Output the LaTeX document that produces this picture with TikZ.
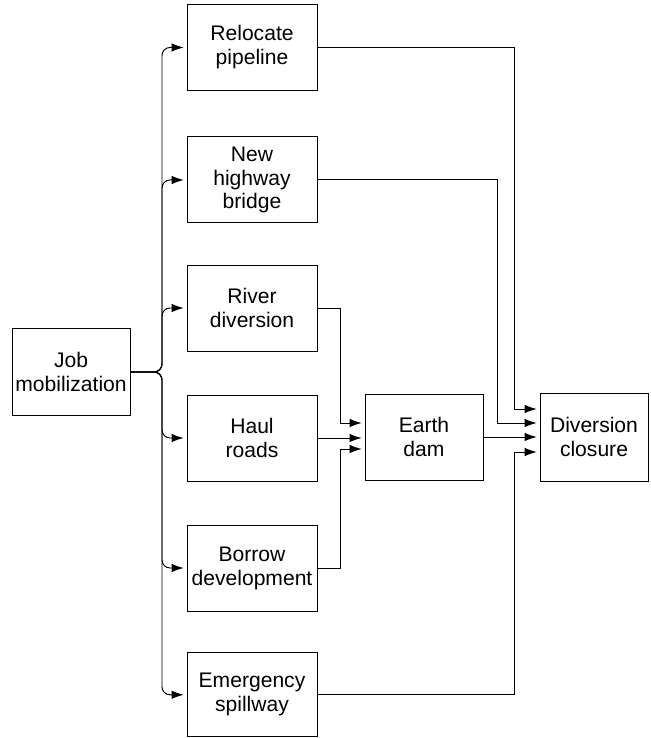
\documentclass[tikz,border=0pt]{standalone}
\usepackage{fontspec}
\setmainfont{Liberation Sans}
\usetikzlibrary{positioning}
\usetikzlibrary{calc}
\usetikzlibrary{arrows.meta}

\begin{document}
\begin{tikzpicture}[
    task/.style={rectangle, draw, line width=0.7pt, minimum width=3.25cm, minimum height=2.15cm,
                 align=center, inner sep=1pt, font=\fontsize{15}{17}\selectfont},
    link/.style={->, line width=0.7pt, shorten >=2pt},
    >={Latex[length=3mm,width=2.1mm]},
    scale=1
]
    \useasboundingbox (0,0) rectangle (16.25,18.45);

    \node[task, minimum width=2.95cm, minimum height=2.175cm] (job) at (1.775, 9.15) {Job\\mobilization};

    \node[task] (pipe)   at (6.3, 17.2625) {Relocate\\pipeline};
    \node[task] (bridge) at (6.3, 13.95) {New\\highway\\bridge};
    \node[task] (river)  at (6.3, 10.75) {River\\diversion};
    \node[task] (haul)   at (6.3, 7.5) {Haul\\roads};
    \node[task] (borrow) at (6.3, 4.25) {Borrow\\development};
    \node[task, minimum height=2.1cm] (spill)  at (6.3, 1.08) {Emergency\\spillway};

    \node[task, minimum width=2.95cm] (dam) at (10.6, 7.525) {Earth\\dam};
    \node[task, minimum width=2.7cm, minimum height=2.2cm] (close) at (14.85, 7.525) {Diversion\\closure};

    % bus lines
    \coordinate (fan)  at (4.05, 0);
    \coordinate (busa) at (8.5, 0);
    \coordinate (busb) at (12.425, 0);
    \coordinate (busc) at (12.85, 0);

    % job mobilization to all first tasks
    \foreach \t in {pipe, bridge, river, haul, borrow, spill}
        \draw[link, rounded corners=0.2cm] (job.east) -- (job.east -| fan) |- (\t.west);

    % into earth dam
    \draw[link] (river.east) -- (river.east -| busa) |- ([yshift=3.5mm]dam.west);
    \draw[link] (haul.east) -- (haul.east -| dam.west);
    \draw[link] (borrow.east) -- (borrow.east -| busa) |- ([yshift=-3mm]dam.west);

    % into diversion closure
    \draw[link] (pipe.east) -- (pipe.east -| busc) |- ([yshift=7mm]close.west);
    \draw[link] (bridge.east) -- (bridge.east -| busb) |- ([yshift=3.5mm]close.west);
    \draw[link] (dam.east) -- (close.west);
    \draw[link] (spill.east) -- (spill.east -| busc) |- ([yshift=-3.75mm]close.west);
\end{tikzpicture}
\end{document}
